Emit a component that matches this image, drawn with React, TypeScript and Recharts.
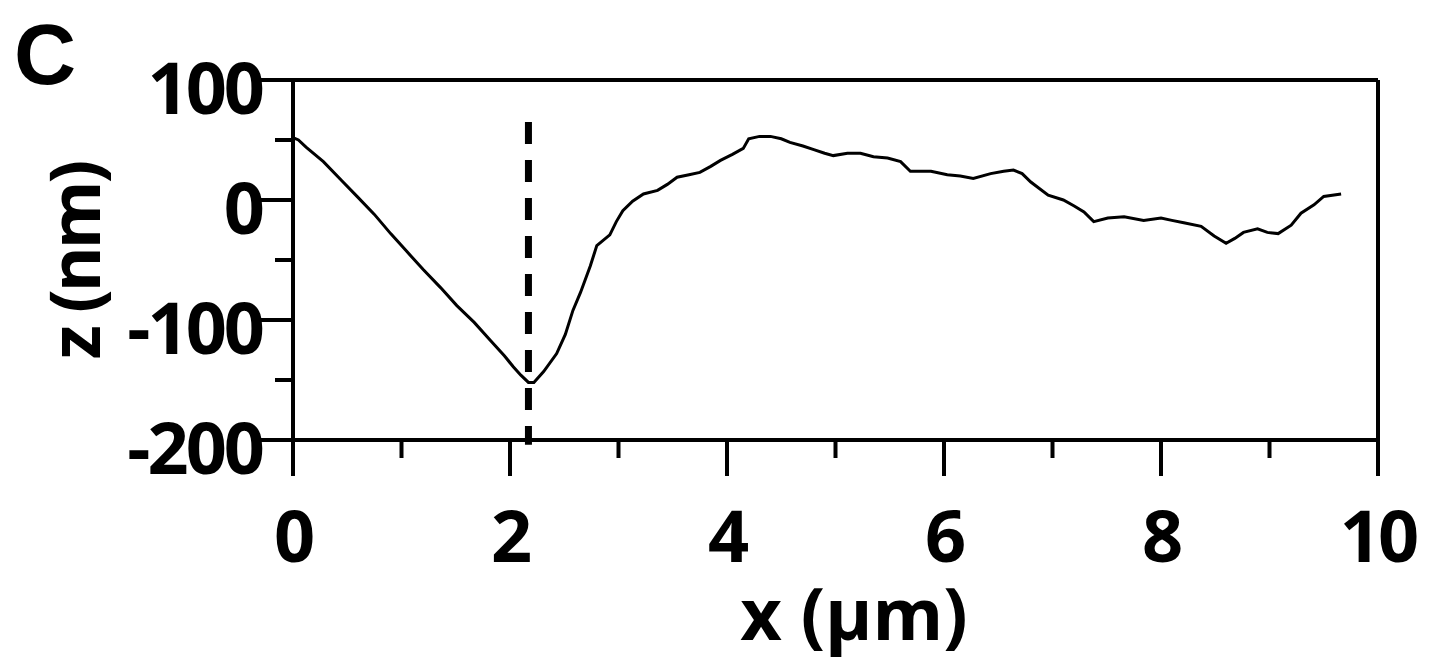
import { LineChart, Line, XAxis, YAxis, ReferenceLine } from "recharts";

// profile (x in µm, z in nm)
const xVals = [
  0.0, 0.05, 0.12, 0.28, 0.45, 0.59, 0.75, 0.9, 1.05, 1.2, 1.36, 1.51, 1.67, 1.82, 1.95, 2.03,
  2.1, 2.17, 2.22, 2.31, 2.43, 2.51, 2.58, 2.65, 2.74, 2.8, 2.92, 2.98, 3.04, 3.13, 3.23, 3.36,
  3.45, 3.54, 3.65, 3.75, 3.85, 3.94, 4.05, 4.15, 4.2, 4.3, 4.4, 4.5, 4.58, 4.7, 4.8, 4.9, 4.98,
  5.11, 5.23, 5.35, 5.48, 5.6, 5.69, 5.8, 5.88, 6.03, 6.15, 6.27, 6.43, 6.55, 6.64, 6.72, 6.8,
  6.96, 7.1, 7.2, 7.29, 7.38, 7.51, 7.66, 7.84, 8.0, 8.1, 8.21, 8.37, 8.49, 8.6, 8.68, 8.76, 8.89,
  8.98, 9.08, 9.2, 9.29, 9.41, 9.5, 9.66,
];
const zVals = [
  52, 50, 44, 32, 16, 3, -12, -28, -43, -58, -73, -88, -102, -117, -130, -139,
  -146, -152, -152, -143, -128, -112, -92, -77, -55, -38, -29, -18, -9, -1, 5, 8,
  13, 19, 21, 23, 28, 33, 38, 43, 51, 53, 53, 51, 48, 45, 42, 39, 37,
  39, 39, 36, 35, 32, 24, 24, 24, 21, 20, 18, 22, 24, 25, 22, 15,
  4, 0, -5, -10, -18, -15, -14, -17, -15, -17, -19, -22, -30, -36, -32, -27, -24,
  -27, -28, -21, -11, -4, 3, 5,
];

const xTicks = [0, 1, 2, 3, 4, 5, 6, 7, 8, 9, 10];
const yTicks = [-200, -150, -100, -50, 0, 50, 100];
const markerX = 2.17;

const data = xVals.map((x, i) => ({ x, z: zVals[i] }));

const font = "'Open Sans', 'Liberation Sans', sans-serif";

function YTick(props: any) {
  const { x, y, payload } = props;
  const v = payload.value;
  const major = v % 100 === 0;
  return (
    <g>
      <line x1={x - (major ? 37 : 18)} x2={x} y1={y} y2={y} stroke="#000" strokeWidth={4} />
      {major && (
        <text x={x - 31} y={y + 34} textAnchor="end" fontFamily={font} fontWeight={700}
          fontSize={72} letterSpacing={-3} fill="#000">
          {String(v)}
        </text>
      )}
    </g>
  );
}

function XTick(props: any) {
  const { x, y, payload } = props;
  const v = payload.value;
  const major = v % 2 === 0;
  return (
    <g>
      <line x1={x} x2={x} y1={y} y2={y + (major ? 36 : 18)} stroke="#000" strokeWidth={4} />
      {major && (
        <text x={x} y={y + 122} textAnchor="middle" fontFamily={font} fontWeight={700}
          fontSize={72} letterSpacing={-3} fill="#000">
          {String(v)}
        </text>
      )}
    </g>
  );
}

export default function App() {
  return (
    <div style={{ position: "absolute", left: 0, top: 0, width: 1432, height: 671, background: "#fff" }}>
      <LineChart width={1432} height={671} data={data} margin={{ top: 80, right: 54, bottom: 131, left: 93 }}>
        <XAxis
          dataKey="x"
          type="number"
          domain={[0, 10]}
          ticks={xTicks}
          interval={0}
          height={100}
          tickSize={0}
          tickMargin={0}
          tickLine={false}
          axisLine={{ stroke: "#000", strokeWidth: 4 }}
          tick={<XTick />}
        />
        <YAxis
          type="number"
          domain={[-200, 100]}
          ticks={yTicks}
          interval={0}
          width={200}
          tickSize={0}
          tickMargin={0}
          tickLine={false}
          axisLine={{ stroke: "#000", strokeWidth: 4 }}
          tick={<YTick />}
        />
        <ReferenceLine y={100} stroke="#000" strokeWidth={4} />
        <ReferenceLine x={10} stroke="#000" strokeWidth={4} />
        <ReferenceLine
          segment={[{ x: markerX, y: 65 }, { x: markerX, y: -204 }]}
          ifOverflow="visible"
          stroke="#000"
          strokeWidth={7}
          strokeDasharray="22 16"
        />
        <Line
          dataKey="z"
          type="linear"
          stroke="#000"
          strokeWidth={3}
          dot={false}
          isAnimationActive={false}
        />
      </LineChart>
      <svg width={1432} height={671} style={{ position: "absolute", left: 0, top: 0, pointerEvents: "none" }}>
        <text x={14} y={84} fontFamily="'Liberation Sans', sans-serif" fontWeight={700} fontSize={86} fill="#000">C</text>
        <text x={854} y={640} textAnchor="middle" fontFamily={font} fontWeight={700} fontSize={72} fill="#000">
          x (µm)
        </text>
        <text
          x={100}
          y={261}
          transform="rotate(-90 100 261)"
          textAnchor="middle"
          fontFamily={font}
          fontWeight={700}
          fontSize={70}
          letterSpacing={-3}
          fill="#000"
        >
          z (nm)
        </text>
      </svg>
    </div>
  );
}
